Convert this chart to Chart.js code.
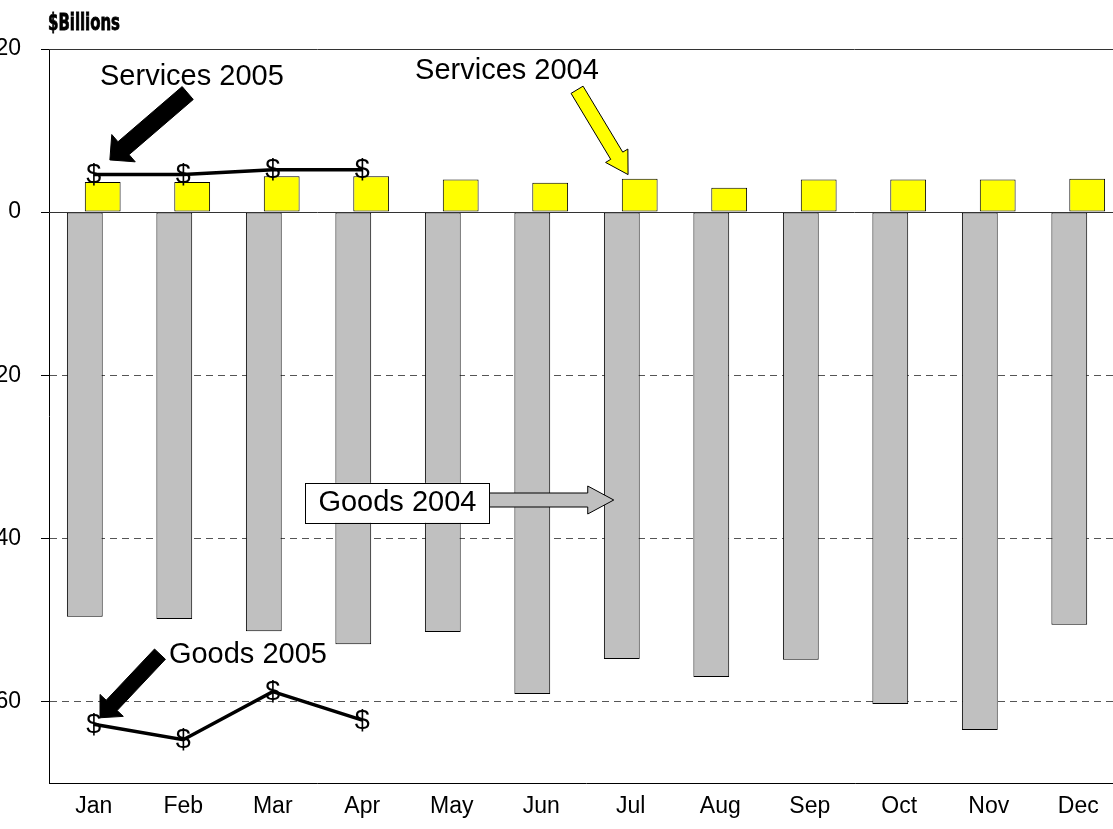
<!DOCTYPE html>
<html>
<head>
<meta charset="utf-8">
<script src="https://cdn.jsdelivr.net/npm/chart.js@4.4.0/dist/chart.umd.min.js"></script>
<style>
html, body { margin: 0; padding: 0; background: #fff; overflow: hidden; width: 1113px; height: 829px; }
#wrap { position: absolute; left: -20px; top: 0; }
</style>
</head>
<body>
<div id="wrap"><canvas id="myChart" width="1160" height="829"></canvas></div>
<script>
const months = ['Jan', 'Feb', 'Mar', 'Apr', 'May', 'Jun', 'Jul', 'Aug', 'Sep', 'Oct', 'Nov', 'Dec'];
const goods2004 = [-49.6, -49.9, -51.4, -53.0, -51.5, -59.1, -54.8, -57.0, -54.9, -60.3, -63.5, -50.6];
const services2004 = [3.7, 3.7, 4.4, 4.4, 4.0, 3.6, 4.1, 3.0, 4.0, 4.0, 4.0, 4.1];
const goods2005 = [-62.8, -64.7, -58.8, -62.3];
const services2005 = [4.6, 4.6, 5.2, 5.2];
const yTicks = [20, 0, -20, -40, -60];
const yMin = -70, yMax = 20;

const FONT = "'Liberation Sans', Arial, sans-serif";

// callouts, placed in category index / value units
const notes = [
  { text: 'Services 2005', at: [0.07, 15.6] },
  { text: 'Services 2004', at: [3.59, 16.3] },
  { text: 'Goods 2004', at: [2.51, -36.7] },
  { text: 'Goods 2005', at: [0.84, -55.3] }
];
const noteBox = { from: [2.36, -33.2], to: [4.42, -38.1] };
const arrows = [
  { from: [1.05, 14.6], to: [0.18, 6.4], shaft: 17, head: 36, headLen: 18, fill: '#000' },
  { from: [5.40, 15.0], to: [5.97, 4.6], shaft: 14, head: 26, headLen: 22, fill: '#ffff00' },
  { from: [4.42, -35.3], to: [5.81, -35.3], shaft: 14, head: 28, headLen: 26, fill: '#c0c0c0' },
  { from: [0.74, -54.2], to: [0.07, -62.0], shaft: 15, head: 32, headLen: 17, fill: '#000' }
];

function blockArrow(ctx, a, b, shaftW, headW, headL, fill) {
  const dx = b.x - a.x, dy = b.y - a.y, len = Math.hypot(dx, dy);
  const ux = dx / len, uy = dy / len, nx = -uy, ny = ux;
  const kx = b.x - ux * headL, ky = b.y - uy * headL;
  ctx.beginPath();
  ctx.moveTo(a.x + nx * shaftW / 2, a.y + ny * shaftW / 2);
  ctx.lineTo(kx + nx * shaftW / 2, ky + ny * shaftW / 2);
  ctx.lineTo(kx + nx * headW / 2, ky + ny * headW / 2);
  ctx.lineTo(b.x, b.y);
  ctx.lineTo(kx - nx * headW / 2, ky - ny * headW / 2);
  ctx.lineTo(kx - nx * shaftW / 2, ky - ny * shaftW / 2);
  ctx.lineTo(a.x - nx * shaftW / 2, a.y - ny * shaftW / 2);
  ctx.closePath();
  ctx.fillStyle = fill;
  ctx.fill();
  ctx.lineWidth = 1;
  ctx.strokeStyle = '#000';
  ctx.stroke();
}

const extras = {
  id: 'extras',
  afterDatasetsDraw(chart) {
    const ctx = chart.ctx, area = chart.chartArea;
    const y = chart.scales.y;
    ctx.save();
    // zero line and top frame
    ctx.strokeStyle = '#333';
    ctx.lineWidth = 1;
    ctx.beginPath();
    const y0 = Math.round(y.getPixelForValue(0)) + 0.5;
    ctx.moveTo(area.left, y0);
    ctx.lineTo(area.right, y0);
    ctx.moveTo(area.left, area.top + 0.5);
    ctx.lineTo(area.right, area.top + 0.5);
    ctx.stroke();
    // dollar markers on the 2005 lines
    ctx.fillStyle = '#000';
    ctx.font = '27px ' + FONT;
    ctx.textAlign = 'center';
    ctx.textBaseline = 'middle';
    chart.data.datasets.forEach((ds, i) => {
      if (ds.type !== 'line') return;
      chart.getDatasetMeta(i).data.forEach(pt => ctx.fillText('$', pt.x, pt.y + 1));
    });
    ctx.restore();
  },
  afterDraw(chart) {
    const ctx = chart.ctx, area = chart.chartArea;
    const xs = chart.scales.x, ys = chart.scales.y;
    const P = p => ({ x: xs.getPixelForValue(p[0]), y: ys.getPixelForValue(p[1]) });
    ctx.save();
    const b1 = P(noteBox.from), b2 = P(noteBox.to);
    arrows.forEach(a => blockArrow(ctx, P(a.from), P(a.to), a.shaft, a.head, a.headLen, a.fill));
    ctx.fillStyle = '#fff';
    ctx.fillRect(b1.x, b1.y, b2.x - b1.x, b2.y - b1.y);
    ctx.strokeStyle = '#000';
    ctx.lineWidth = 1;
    ctx.strokeRect(Math.round(b1.x) + 0.5, Math.round(b1.y) + 0.5, Math.round(b2.x - b1.x), Math.round(b2.y - b1.y));
    ctx.fillStyle = '#000';
    ctx.font = '29px ' + FONT;
    ctx.textAlign = 'left';
    ctx.textBaseline = 'alphabetic';
    notes.forEach(n => {
      const p = P(n.at);
      ctx.fillText(n.text, p.x, p.y);
    });
    // unit label, squeezed to look like a condensed heavy face
    ctx.font = "bold 23px 'Liberation Sans Narrow', 'DejaVu Sans Condensed', 'DejaVu Sans', sans-serif";
    const w = ctx.measureText('$Billions').width;
    ctx.translate(area.left - 1, 30);
    ctx.scale(72 / w, 1);
    ctx.lineWidth = 0.8;
    ctx.strokeStyle = '#000';
    ctx.strokeText('$Billions', 0, 0);
    ctx.fillText('$Billions', 0, 0);
    ctx.restore();
  }
};

const ctx = document.getElementById('myChart').getContext('2d');
const myChart = new Chart(ctx, {
  type: 'bar',
  data: {
    labels: months,
    datasets: [
      {
        type: 'line', label: 'Services 2005', data: services2005,
        borderColor: '#000', borderWidth: 3.5, pointRadius: 0, tension: 0, order: 0
      },
      {
        type: 'line', label: 'Goods 2005', data: goods2005,
        borderColor: '#000', borderWidth: 3.5, pointRadius: 0, tension: 0, order: 0
      },
      {
        type: 'bar', label: 'Goods 2004', data: goods2004,
        backgroundColor: '#c0c0c0', borderColor: '#000', borderWidth: 1, borderSkipped: false,
        categoryPercentage: 0.4, barPercentage: 2, order: 1
      },
      {
        type: 'bar', label: 'Services 2004', data: services2004,
        backgroundColor: '#ffff00', borderColor: '#000', borderWidth: 1, borderSkipped: false,
        categoryPercentage: 0.4, barPercentage: 2, order: 1
      }
    ]
  },
  options: {
    responsive: false,
    animation: false,
    devicePixelRatio: 1,
    layout: { padding: { left: 0, right: 17, top: 49, bottom: 0 } },
    plugins: { legend: { display: false }, tooltip: { enabled: false } },
    scales: {
      x: {
        grid: { display: false, drawTicks: false },
        border: { display: true, color: '#000', width: 1 },
        ticks: { color: '#000', font: { family: FONT, size: 23 }, padding: 10, maxRotation: 0, autoSkip: false },
        afterFit: s => { s.height = 46; }
      },
      y: {
        min: yMin,
        max: yMax,
        afterBuildTicks: s => { s.ticks = yTicks.map(v => ({ value: v })); },
        afterFit: s => { s.width = 69; },
        grid: {
          color: c => (c.tick && c.tick.value < 0) ? '#555' : 'rgba(0,0,0,0)',
          lineWidth: 1,
          drawTicks: true,
          tickLength: 8,
          tickColor: '#000',
          tickWidth: 1
        },
        border: { display: true, color: '#000', width: 1, dash: [7, 5] },
        ticks: { color: '#000', font: { family: FONT, size: 23 }, padding: 20 }
      }
    }
  },
  plugins: [extras]
});
</script>
</body>
</html>
